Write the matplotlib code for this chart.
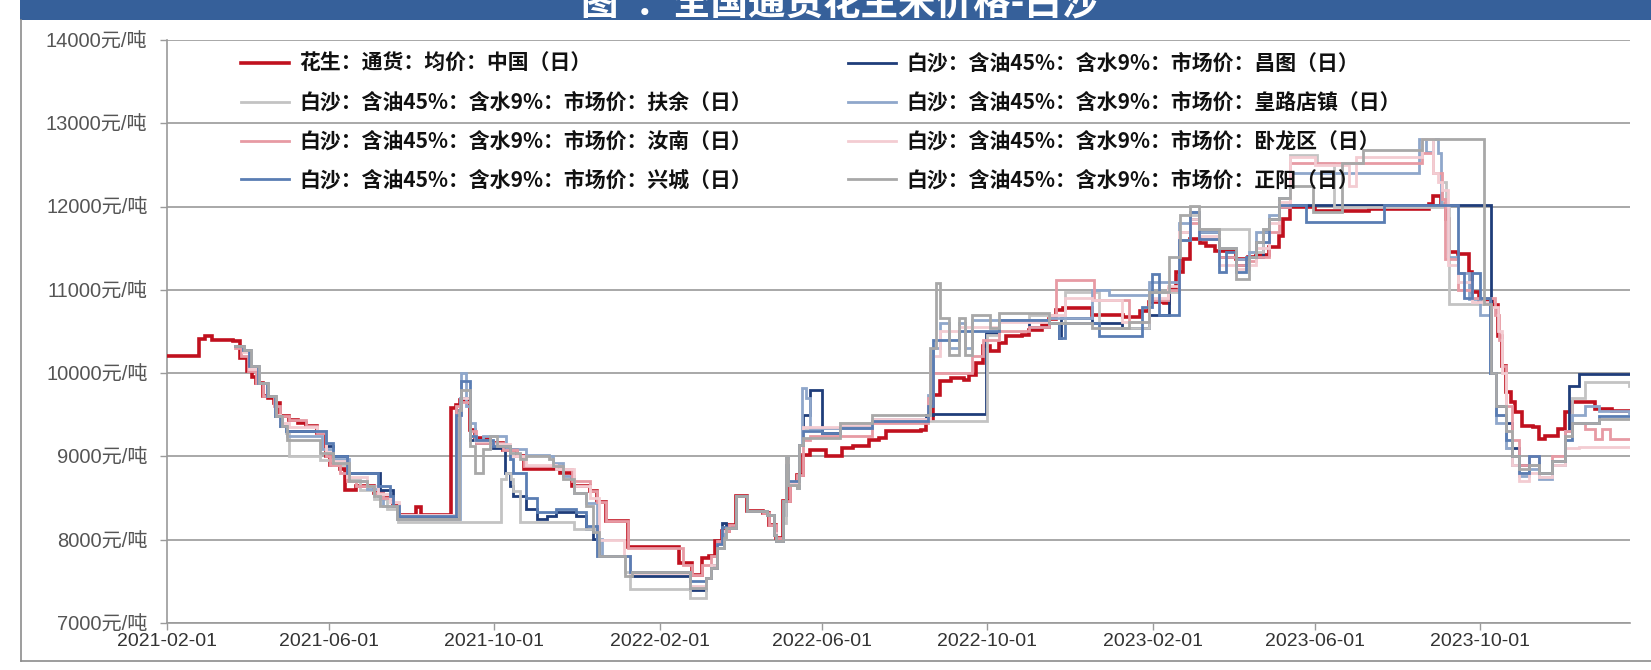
import numpy as np
import pandas as pd
import matplotlib
matplotlib.use('Agg')
import matplotlib.pyplot as plt
from matplotlib.patches import Rectangle
from matplotlib.lines import Line2D
from matplotlib.font_manager import FontProperties

# ---------------- data (days since START, value in 元/吨) ----------------
START = '2021-02-01'
END_DAY = 1083

cn_days = [0, 24, 28, 33, 49, 54, 59, 63, 66, 71, 75, 79, 84, 90, 97, 103, 111, 118, 121, 128, 132, 140, 153, 160, 167, 172, 184, 188,
           210, 214, 217, 224, 228, 239, 249, 259, 264, 291, 300, 313, 318, 325, 341, 379, 389, 396, 401, 406, 411, 416, 421, 429, 441,
           446, 451, 456, 461, 466, 471, 476, 488, 500, 508, 520, 527, 532, 558, 562, 567, 572, 580, 590, 594, 599, 604, 609, 616, 621,
           633, 638, 648, 653, 658, 663, 685, 708, 720, 727, 738, 742, 747, 752, 757, 765, 769, 776, 791, 800, 806, 816, 823, 826, 831,
           850, 890, 934, 937, 943, 947, 949, 956, 964, 966, 971, 981, 985, 988, 991, 995, 998, 1003, 1011, 1016, 1020, 1030, 1035, 1040,
           1057, 1070, 1082]
cn_vals = [10200, 10410, 10450, 10400, 10380, 10180, 10020, 9950, 9880, 9720, 9700, 9640, 9480, 9440, 9400, 9360, 9280, 9000, 8900, 8850,
           8600, 8640, 8560, 8500, 8400, 8300, 8390, 8300, 9580, 9620, 9680, 9320, 9220, 9160, 9080, 9000, 8850, 8800, 8650, 8580, 8450,
           8230, 7910, 7720, 7580, 7780, 7800, 7980, 8100, 8180, 8520, 8340, 8320, 8180, 8020, 8460, 8660, 8780, 9020, 9080, 9000, 9100,
           9120, 9200, 9220, 9310, 9320, 9440, 9740, 9900, 9940, 9920, 9980, 10120, 10320, 10260, 10360, 10440, 10460, 10520, 10580,
           10650, 10760, 10780, 10700, 10680, 10750, 10860, 10840, 11015, 11215, 11370, 11610, 11560, 11530, 11470, 11370, 11400, 11420,
           11510, 11650, 11850, 11990, 11950, 11970, 12030, 12130, 12030, 11850, 11450, 11430, 11210, 10970, 10870, 10820, 10450, 10090,
           9770, 9650, 9530, 9370, 9350, 9210, 9250, 9330, 9530, 9650, 9570, 9550, 9550]

ct_days = [50, 56, 61, 67, 74, 80, 84, 88, 113, 118, 123, 133, 156, 158, 165, 167, 172, 212, 214, 218, 224, 229, 241, 250, 254, 256, 266,
           274, 281, 288, 303, 310, 315, 320, 338, 343, 382, 387, 396, 399, 403, 407, 411, 414, 421, 429, 444, 449, 451, 456, 458, 460,
           466, 468, 471, 476, 484, 485, 498, 522, 562, 567, 606, 616, 638, 653, 660, 662, 685, 707, 727, 742, 749, 757, 764, 779, 791,
           801, 811, 816, 823, 831, 971, 980, 984, 991, 996, 1001, 1008, 1016, 1025, 1035, 1038, 1045, 1082]
ct_vals = [10320, 10280, 10080, 9880, 9720, 9480, 9360, 9300, 9300, 9120, 9000, 8800, 8800, 8600, 8600, 8400, 8290, 8290, 9560, 9700,
           9200, 9160, 9100, 8800, 8645, 8525, 8370, 8250, 8290, 8330, 8290, 8130, 8010, 7810, 7810, 7570, 7570, 7400, 7400, 7540, 7700,
           7950, 8200, 8150, 8520, 8340, 8300, 8100, 7980, 8300, 8980, 8660, 8700, 9140, 9500, 9800, 9800, 9280, 9350, 9420, 9500, 9510,
           10480, 10640, 10560, 10600, 10420, 10660, 10600, 10540, 10700, 11000, 11600, 11850, 11700, 11400, 11300, 11400, 11700, 11850,
           12000, 12016, 12016, 10000, 9600, 9400, 9100, 8900, 8900, 8800, 8950, 9300, 9850, 9990, 9990]

fy_days = [50, 56, 61, 67, 74, 80, 84, 88, 90, 111, 113, 123, 133, 143, 153, 163, 171, 246, 247, 251, 255, 256, 261, 291, 301, 318, 338,
           339, 343, 382, 387, 396, 399, 403, 407, 412, 414, 421, 429, 444, 449, 451, 456, 458, 460, 466, 468, 471, 498, 522, 606, 607,
           616, 638, 653, 665, 685, 690, 707, 727, 741, 749, 757, 764, 799, 801, 811, 816, 823, 831, 850, 851, 863, 864, 942, 944, 947,
           949, 971, 974, 979, 984, 991, 996, 1001, 1008, 1016, 1025, 1035, 1040, 1050, 1079, 1082]
fy_vals = [10320, 10280, 10080, 9880, 9720, 9480, 9360, 9280, 9000, 9000, 8960, 8900, 8725, 8600, 8490, 8370, 8207, 8207, 8725, 8805,
           8725, 8586, 8207, 8207, 8127, 7809, 7809, 7610, 7410, 7410, 7300, 7300, 7540, 7660, 7900, 8020, 8140, 8520, 8340, 8300, 8060,
           7980, 8200, 8980, 8660, 8620, 9140, 9340, 9400, 9420, 9420, 10460, 10640, 10700, 10600, 10976, 10976, 10540, 10540, 10976,
           10976, 11600, 11900, 11730, 11730, 11450, 11730, 11850, 12107, 12623, 12623, 12524, 12524, 12000, 12000, 12300, 12000, 10830,
           10830, 10900, 10000, 9500, 9100, 8900, 8800, 8900, 8750, 8950, 9300, 9700, 9890, 9890, 9850]

hl_days = [50, 57, 62, 68, 75, 81, 85, 89, 111, 115, 123, 135, 148, 156, 160, 170, 215, 217, 218, 221, 224, 228, 234, 241, 251, 266, 283,
           286, 293, 301, 310, 318, 322, 338, 343, 382, 387, 396, 399, 403, 407, 412, 414, 421, 429, 444, 449, 451, 456, 458, 460, 466,
           468, 470, 473, 476, 498, 522, 560, 563, 567, 572, 579, 586, 591, 596, 616, 653, 685, 697, 727, 741, 749, 757, 764, 779, 791,
           801, 806, 816, 823, 831, 925, 927, 932, 937, 941, 943, 946, 948, 956, 964, 972, 979, 984, 991, 996, 1001, 1008, 1016, 1025,
           1035, 1040, 1050, 1060, 1082]
hl_vals = [10320, 10280, 10080, 9880, 9720, 9480, 9363, 9243, 9243, 9084, 8964, 8705, 8606, 8526, 8406, 8247, 8247, 9700, 10000, 9600,
           9400, 9200, 9243, 9243, 9084, 9020, 9004, 8924, 8765, 8566, 8446, 8008, 7809, 7809, 7610, 7610, 7420, 7420, 7540, 7660, 7900,
           8100, 8140, 8520, 8340, 8300, 8060, 7980, 8460, 8980, 8660, 8620, 9140, 9820, 9700, 9340, 9340, 9450, 9450, 9740, 10300,
           10600, 10300, 10600, 10300, 10640, 10640, 10660, 11000, 10940, 11095, 11095, 11800, 11929, 11700, 11500, 11373, 11452, 11700,
           11900, 12100, 12405, 12405, 12808, 12650, 12808, 12648, 12016, 12016, 11400, 11208, 10888, 10700, 10000, 9400, 9100, 8900,
           8768, 8850, 8728, 8900, 9300, 9500, 9600, 9550, 9520]

rn_days = [50, 55, 60, 66, 71, 79, 84, 90, 103, 111, 118, 121, 128, 133, 140, 153, 160, 167, 172, 212, 214, 218, 224, 229, 241, 249, 259,
           264, 291, 300, 313, 318, 325, 341, 365, 382, 389, 396, 403, 407, 411, 416, 421, 429, 441, 446, 451, 456, 461, 466, 471, 476,
           500, 522, 560, 563, 567, 596, 604, 616, 638, 653, 658, 683, 686, 707, 712, 722, 727, 741, 749, 757, 764, 779, 791, 801, 806,
           816, 823, 831, 925, 929, 937, 944, 946, 956, 966, 983, 986, 988, 991, 996, 1001, 1008, 1016, 1025, 1035, 1040, 1050, 1057,
           1062, 1068, 1082]
rn_vals = [10300, 10200, 10020, 9880, 9720, 9600, 9480, 9440, 9360, 9280, 9000, 8900, 8800, 8700, 8640, 8560, 8500, 8400, 8300, 8300,
           9600, 9650, 9300, 9160, 9160, 9080, 9000, 8880, 8850, 8700, 8580, 8450, 8230, 7900, 7900, 7700, 7580, 7700, 7800, 7980, 8100,
           8180, 8520, 8340, 8320, 8180, 8020, 8460, 8660, 8780, 9200, 9250, 9250, 9400, 9400, 9700, 10000, 10200, 10400, 10500, 10560,
           10700, 11120, 11120, 10877, 10877, 10619, 10619, 10877, 11000, 11700, 11800, 11611, 11400, 11300, 11350, 11400, 11700, 12000,
           12524, 12524, 12648, 12400, 12088, 11368, 11000, 10900, 10700, 10400, 10090, 9600, 9200, 8900, 9000, 8800, 9000, 9300, 9400,
           9328, 9208, 9328, 9208, 9208]

wl_days = [50, 56, 61, 67, 74, 80, 84, 90, 111, 118, 123, 133, 148, 156, 165, 172, 212, 215, 218, 224, 229, 241, 254, 266, 288, 301, 313,
           320, 338, 343, 382, 387, 396, 399, 403, 407, 411, 414, 421, 429, 444, 449, 451, 456, 458, 460, 466, 468, 471, 498, 522, 560,
           565, 572, 586, 606, 616, 653, 665, 685, 707, 722, 727, 741, 749, 757, 764, 779, 791, 801, 806, 816, 823, 831, 850, 875, 880,
           925, 929, 937, 941, 944, 948, 956, 966, 979, 985, 988, 991, 996, 1001, 1008, 1016, 1025, 1035, 1045, 1082]
wl_vals = [10320, 10250, 10050, 9880, 9720, 9500, 9400, 9350, 9300, 9050, 8950, 8750, 8650, 8550, 8450, 8300, 8300, 9500, 9700, 9250,
           9180, 9150, 9000, 8900, 8850, 8650, 8500, 8000, 7800, 7600, 7600, 7450, 7450, 7540, 7700, 7950, 8100, 8140, 8520, 8340, 8300,
           8080, 7980, 8460, 8950, 8680, 8680, 9140, 9350, 9380, 9450, 9450, 10200, 10500, 10550, 10550, 10620, 10700, 10900, 10877,
           10619, 10619, 10900, 11050, 11700, 11850, 11650, 11300, 11250, 11300, 11500, 11800, 12050, 12600, 12500, 12250, 12600, 12600,
           12808, 12400, 12300, 12200, 11300, 11100, 10850, 10800, 10500, 10000, 9300, 8900, 8700, 8800, 8750, 8900, 9100, 9110, 9110]

xc_days = [50, 56, 61, 67, 74, 80, 84, 88, 113, 118, 123, 133, 150, 156, 165, 167, 172, 212, 214, 218, 224, 229, 241, 254, 256, 266, 274,
           288, 303, 310, 318, 338, 343, 382, 387, 396, 399, 403, 407, 411, 414, 421, 429, 444, 449, 451, 456, 458, 460, 466, 468, 471,
           485, 498, 522, 560, 563, 567, 586, 606, 616, 653, 660, 665, 690, 712, 722, 729, 734, 741, 749, 757, 764, 779, 784, 791, 799,
           806, 816, 823, 843, 900, 901, 946, 956, 960, 966, 972, 979, 984, 991, 996, 1001, 1008, 1016, 1025, 1035, 1040, 1060, 1082]
xc_vals = [10320, 10280, 10080, 9880, 9720, 9480, 9360, 9300, 9300, 9160, 9004, 8805, 8805, 8645, 8526, 8406, 8287, 8287, 9500, 9900,
           9243, 9200, 9124, 8964, 8800, 8500, 8327, 8367, 8327, 8167, 7809, 7809, 7610, 7610, 7500, 7500, 7540, 7660, 7950, 8150, 8140,
           8520, 8340, 8300, 8060, 7980, 8460, 8900, 8700, 8700, 9140, 9300, 9280, 9340, 9420, 9420, 9600, 10400, 10500, 10500, 10640,
           10600, 10420, 10600, 10441, 10441, 10800, 11194, 10700, 10700, 11600, 11929, 11611, 11214, 11452, 11214, 11400, 11571, 11849,
           12016, 11810, 11810, 12016, 12016, 11208, 10900, 11200, 10900, 10000, 9500, 9200, 9000, 8800, 9000, 8800, 8950, 9200, 9400,
           9488, 9488]

zy_days = [50, 57, 62, 68, 75, 81, 85, 89, 111, 113, 123, 135, 148, 153, 158, 170, 215, 216, 218, 224, 228, 234, 239, 244, 254, 261, 266,
           283, 286, 293, 301, 310, 315, 320, 337, 339, 344, 382, 387, 396, 399, 403, 407, 412, 414, 421, 429, 444, 449, 451, 456, 458,
           460, 466, 468, 471, 498, 522, 560, 565, 569, 572, 579, 586, 591, 596, 606, 609, 616, 653, 685, 707, 712, 722, 727, 735, 742,
           750, 757, 764, 779, 791, 799, 801, 806, 811, 816, 823, 831, 848, 870, 885, 929, 970, 975, 980, 984, 991, 996, 1001, 1008, 1016,
           1025, 1035, 1040, 1060, 1082]
zy_vals = [10320, 10280, 10080, 9880, 9720, 9480, 9363, 9203, 9203, 9044, 8924, 8705, 8645, 8526, 8406, 8247, 8247, 9562, 9800, 9124,
           8805, 9084, 9243, 9124, 9044, 8964, 9004, 8964, 8884, 8725, 8566, 8406, 8088, 7809, 7809, 7570, 7610, 7610, 7420, 7420, 7540,
           7660, 7900, 8020, 8140, 8520, 8340, 8300, 8060, 7980, 8460, 8980, 8660, 8620, 9140, 9220, 9400, 9500, 9500, 10300, 11080,
           10660, 10220, 10660, 10220, 10700, 10700, 10540, 10720, 10600, 10540, 10540, 10620, 10620, 10976, 10976, 11400, 11900, 12008,
           11730, 11500, 11135, 11135, 11400, 11571, 11730, 11849, 12107, 12246, 11929, 12524, 12683, 12808, 12808, 10830, 10000, 9600,
           9300, 9000, 8850, 8900, 8800, 8950, 9250, 9400, 9450, 9450]

series = [
    ('花生：通货：均价：中国（日）', cn_days, cn_vals, '#C0101E', 2.6),
    ('白沙：含油45%：含水9%：市场价：昌图（日）', ct_days, ct_vals, '#1F3D7A', 2.0),
    ('白沙：含油45%：含水9%：市场价：扶余（日）', fy_days, fy_vals, '#C3C3C3', 2.0),
    ('白沙：含油45%：含水9%：市场价：皇路店镇（日）', hl_days, hl_vals, '#8FA7CB', 2.0),
    ('白沙：含油45%：含水9%：市场价：汝南（日）', rn_days, rn_vals, '#E79AA4', 2.0),
    ('白沙：含油45%：含水9%：市场价：卧龙区（日）', wl_days, wl_vals, '#F3CCD2', 2.0),
    ('白沙：含油45%：含水9%：市场价：兴城（日）', xc_days, xc_vals, '#5A7DB3', 2.0),
    ('白沙：含油45%：含水9%：市场价：正阳（日）', zy_days, zy_vals, '#A8A8A8', 2.0),
]
title_text = '图  ：全国通货花生米价格-白沙'
yticks = [7000, 8000, 9000, 10000, 11000, 12000, 13000, 14000]
xtick_labels = ['2021-02-01', '2021-06-01', '2021-10-01', '2022-02-01', '2022-06-01',
                '2022-10-01', '2023-02-01', '2023-06-01', '2023-10-01']

# ---------------- figure ----------------
W, H = 1651, 670
fig = plt.figure(figsize=(W / 100, H / 100), dpi=100)
fig.patch.set_facecolor('white')

def fx(px):
    return px / W

def fy_(py):
    return 1 - py / H

ax = fig.add_axes([fx(167), fy_(623), fx(1630) - fx(167), fy_(40) - fy_(623)])

base = pd.Timestamp(START)
handles = {}
for i, (name, d, v, c, lw) in enumerate(series):
    dates = base + pd.to_timedelta(np.array(d), unit='D')
    ln, = ax.plot(dates, v, drawstyle='steps-post', color=c, lw=lw, zorder=3 + i * 0.1, solid_joinstyle='miter')
    handles[name] = ln

ax.set_xlim(base, base + pd.Timedelta(days=END_DAY))
ax.set_ylim(7000, 14000)

grid_c = '#9A9A9A'
ax.set_yticks(yticks)
ax.set_yticklabels([f'{t}元/吨' for t in yticks])
ax.yaxis.grid(True, color=grid_c, lw=1.2, zorder=1)
ax.set_axisbelow(True)
ax.set_xticks([pd.Timestamp(t) for t in xtick_labels])
ax.set_xticklabels(xtick_labels)

for s in ['top', 'right']:
    ax.spines[s].set_visible(False)
for s in ['left', 'bottom']:
    ax.spines[s].set_color(grid_c)
    ax.spines[s].set_linewidth(1.2)

tick_font = ['Liberation Sans', 'Noto Sans CJK SC', 'DejaVu Sans']
ax.tick_params(axis='y', length=5, width=1, color=grid_c, pad=9, labelsize=14.5, labelcolor='#555555')
ax.tick_params(axis='x', length=5, width=1, color=grid_c, pad=2, labelsize=14, labelcolor='#333333')
for lab in ax.get_yticklabels() + ax.get_xticklabels():
    lab.set_fontfamily(tick_font)

# ---------------- legend (two columns) ----------------
leg_font = FontProperties(family=['Noto Sans CJK SC', 'DejaVu Sans'], weight='bold', size=15)
names = [s[0] for s in series]
left_names = [names[0], names[2], names[4], names[6]]
right_names = [names[1], names[3], names[5], names[7]]
common = dict(loc='upper left', frameon=False, prop=leg_font, handlelength=2.3, handletextpad=0.5,
              labelspacing=0.86, borderpad=0, borderaxespad=0, bbox_transform=fig.transFigure)
lg1 = fig.legend([handles[n] for n in left_names], left_names, bbox_to_anchor=(fx(241), fy_(53)), **common)
lg2 = fig.legend([handles[n] for n in right_names], right_names, bbox_to_anchor=(fx(848), fy_(53)), **common)
for lg in (lg1, lg2):
    for t in lg.get_texts():
        t.set_color('#111111')

# ---------------- banner & frame ----------------
fig.patches.append(Rectangle((fx(20), fy_(20)), 1 - fx(20), 20 / H, transform=fig.transFigure,
                             facecolor='#36609A', edgecolor='none', zorder=0))
fig.text(fx(840), fy_(3), title_text, color='white', fontsize=27, fontweight='bold',
         family=['Noto Sans CJK SC', 'DejaVu Sans'], ha='center', va='center')
fig.lines.append(Line2D([fx(21), fx(21)], [fy_(20), fy_(661)], transform=fig.transFigure, color='#8C8C8C', lw=1.2))
fig.lines.append(Line2D([fx(21), 1], [fy_(661), fy_(661)], transform=fig.transFigure, color='#8C8C8C', lw=1.2))

fig.savefig('out.png', dpi=100, facecolor='white')
